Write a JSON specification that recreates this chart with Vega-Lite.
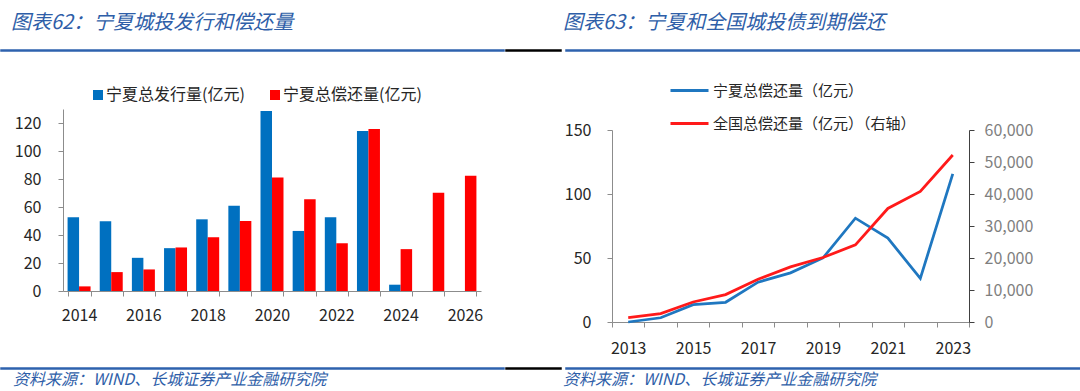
{
  "$schema": "https://vega.github.io/schema/vega-lite/v6.json",
  "padding": {"left": 0, "top": 12, "right": 0, "bottom": 0},
  "background": "white",
  "config": {
    "font": "Noto Sans CJK SC",
    "view": {"stroke": null},
    "axis": {"labelFontSize": 16, "labelColor": "#262626", "domainColor": "#8c8c8c", "tickColor": "#8c8c8c", "tickSize": 5, "grid": false, "labelFont": "Noto Sans CJK SC"},
    "legend": {"labelFontSize": 15, "labelColor": "#262626", "padding": 0, "labelFont": "Noto Sans CJK SC", "labelLimit": 400},
    "title": {"font": "Noto Sans CJK SC", "fontStyle": "italic", "fontWeight": "normal", "color": "#2E5EA8", "anchor": "start"}
  },
  "spacing": 11,
  "resolve": {"scale": {"color": "independent"}, "legend": {"color": "independent"}},
  "vconcat": [
    {
      "spacing": 0,
      "hconcat": [
        {"width": 503, "height": 1, "view": {"stroke": "#2E62AE", "strokeWidth": 1.5},
         "title": {"text": "图表62：宁夏城投发行和偿还量", "fontSize": 20, "dx": 10, "offset": 17},
         "data": {"values": []}, "mark": "text", "encoding": {"text": {"field": "t"}}},
        {"width": 55, "height": 1, "view": {"stroke": "#000000", "strokeWidth": 1.5},
         "data": {"values": []}, "mark": "text", "encoding": {"text": {"field": "t"}}},
        {"width": 522, "height": 1, "view": {"stroke": "#2E62AE", "strokeWidth": 1.5},
         "title": {"text": "图表63：宁夏和全国城投债到期偿还", "fontSize": 20, "dx": -3, "offset": 17},
         "data": {"values": []}, "mark": "text", "encoding": {"text": {"field": "t"}}}
      ]
    },
    {
      "spacing": 0,
      "resolve": {"scale": {"color": "independent"}, "legend": {"color": "independent"}},
      "hconcat": [
        {"width": 1, "height": 1, "data": {"values": []}, "mark": "text", "encoding": {"text": {"field": "t"}}},
        {
          "spacing": 23,
          "resolve": {"scale": {"color": "independent"}, "legend": {"color": "independent"}},
          "vconcat": [
            {"width": 1, "height": 1, "data": {"values": []}, "mark": "text", "encoding": {"text": {"field": "t"}}},
            {
              "width": 418, "height": 182,
              "data": {"values": [
                {"year": 2014, "indicator": "宁夏总发行量(亿元)", "value": 52.6},
                {"year": 2015, "indicator": "宁夏总发行量(亿元)", "value": 49.8},
                {"year": 2016, "indicator": "宁夏总发行量(亿元)", "value": 23.7},
                {"year": 2017, "indicator": "宁夏总发行量(亿元)", "value": 30.6},
                {"year": 2018, "indicator": "宁夏总发行量(亿元)", "value": 51.2},
                {"year": 2019, "indicator": "宁夏总发行量(亿元)", "value": 60.9},
                {"year": 2020, "indicator": "宁夏总发行量(亿元)", "value": 128.5},
                {"year": 2021, "indicator": "宁夏总发行量(亿元)", "value": 42.9},
                {"year": 2022, "indicator": "宁夏总发行量(亿元)", "value": 52.6},
                {"year": 2023, "indicator": "宁夏总发行量(亿元)", "value": 114.3},
                {"year": 2024, "indicator": "宁夏总发行量(亿元)", "value": 4.5},
                {"year": 2014, "indicator": "宁夏总偿还量(亿元)", "value": 3.3},
                {"year": 2015, "indicator": "宁夏总偿还量(亿元)", "value": 13.5},
                {"year": 2016, "indicator": "宁夏总偿还量(亿元)", "value": 15.4},
                {"year": 2017, "indicator": "宁夏总偿还量(亿元)", "value": 31.1},
                {"year": 2018, "indicator": "宁夏总偿还量(亿元)", "value": 38.4},
                {"year": 2019, "indicator": "宁夏总偿还量(亿元)", "value": 50.0},
                {"year": 2020, "indicator": "宁夏总偿还量(亿元)", "value": 81.1},
                {"year": 2021, "indicator": "宁夏总偿还量(亿元)", "value": 65.5},
                {"year": 2022, "indicator": "宁夏总偿还量(亿元)", "value": 34.1},
                {"year": 2023, "indicator": "宁夏总偿还量(亿元)", "value": 115.7},
                {"year": 2024, "indicator": "宁夏总偿还量(亿元)", "value": 29.9},
                {"year": 2025, "indicator": "宁夏总偿还量(亿元)", "value": 70.2},
                {"year": 2026, "indicator": "宁夏总偿还量(亿元)", "value": 82.3}
              ]},
              "mark": {"type": "bar"},
              "encoding": {
                "x": {"field": "year", "type": "ordinal",
                      "scale": {"paddingInner": 0.285, "paddingOuter": 0.1425},
                      "axis": {"title": null, "labelAngle": 0, "tickBand": "extent", "labelPadding": 11,
                               "labelExpr": "datum.value % 2 == 0 ? datum.label : ''"}},
                "xOffset": {"field": "indicator", "type": "nominal", "sort": ["宁夏总发行量(亿元)", "宁夏总偿还量(亿元)"], "scale": {"paddingInner": 0}},
                "y": {"field": "value", "type": "quantitative", "scale": {"domain": [0, 130], "nice": false},
                      "axis": {"title": null, "values": [0, 20, 40, 60, 80, 100, 120], "minExtent": 61, "labelPadding": 17}},
                "color": {"field": "indicator", "type": "nominal",
                          "scale": {"domain": ["宁夏总发行量(亿元)", "宁夏总偿还量(亿元)"], "range": ["#0070C0", "#FF0000"]},
                          "legend": {"title": null, "orient": "none", "legendX": 27, "legendY": -22, "direction": "horizontal",
                                     "symbolType": "square", "symbolSize": 100, "labelOffset": 0, "columnPadding": 22, "labelFontSize": 16}}
              }
            }
          ]
        },
        {
          "spacing": 6,
          "resolve": {"scale": {"color": "independent"}, "legend": {"color": "independent"}},
          "vconcat": [
            {"width": 1, "height": 1, "data": {"values": []}, "mark": "text", "encoding": {"text": {"field": "t"}}},
            {
              "width": 357, "height": 192,
              "data": {"values": [
                {"year": 2013, "series": "宁夏总偿还量（亿元）", "value": 0},
                {"year": 2014, "series": "宁夏总偿还量（亿元）", "value": 3.3},
                {"year": 2015, "series": "宁夏总偿还量（亿元）", "value": 13.5},
                {"year": 2016, "series": "宁夏总偿还量（亿元）", "value": 15.4},
                {"year": 2017, "series": "宁夏总偿还量（亿元）", "value": 31.1},
                {"year": 2018, "series": "宁夏总偿还量（亿元）", "value": 38.4},
                {"year": 2019, "series": "宁夏总偿还量（亿元）", "value": 50.0},
                {"year": 2020, "series": "宁夏总偿还量（亿元）", "value": 81.1},
                {"year": 2021, "series": "宁夏总偿还量（亿元）", "value": 65.5},
                {"year": 2022, "series": "宁夏总偿还量（亿元）", "value": 34.1},
                {"year": 2023, "series": "宁夏总偿还量（亿元）", "value": 115.7},
                {"year": 2013, "series": "全国总偿还量（亿元）（右轴）", "value": 1360},
                {"year": 2014, "series": "全国总偿还量（亿元）（右轴）", "value": 2610},
                {"year": 2015, "series": "全国总偿还量（亿元）（右轴）", "value": 6260},
                {"year": 2016, "series": "全国总偿还量（亿元）（右轴）", "value": 8560},
                {"year": 2017, "series": "全国总偿还量（亿元）（右轴）", "value": 13360},
                {"year": 2018, "series": "全国总偿还量（亿元）（右轴）", "value": 17220},
                {"year": 2019, "series": "全国总偿还量（亿元）（右轴）", "value": 20140},
                {"year": 2020, "series": "全国总偿还量（亿元）（右轴）", "value": 24100},
                {"year": 2021, "series": "全国总偿还量（亿元）（右轴）", "value": 35480},
                {"year": 2022, "series": "全国总偿还量（亿元）（右轴）", "value": 40800},
                {"year": 2023, "series": "全国总偿还量（亿元）（右轴）", "value": 52180}
              ]},
              "encoding": {
                "x": {"field": "year", "type": "ordinal",
                      "scale": {"type": "band", "paddingInner": 0, "paddingOuter": 0},
                      "axis": {"title": null, "labelAngle": 0, "tickBand": "extent", "labelPadding": 13,
                               "labelExpr": "datum.value % 2 == 1 ? datum.label : ''"}},
                "color": {"field": "series", "type": "nominal",
                          "scale": {"domain": ["宁夏总偿还量（亿元）", "全国总偿还量（亿元）（右轴）"], "range": ["#1F77C0", "#FF1A1A"]},
                          "legend": {"title": null, "orient": "none", "legendX": 57, "legendY": -60, "direction": "vertical",
                                     "symbolType": "stroke", "symbolSize": 1444, "symbolStrokeWidth": 3, "labelOffset": 3, "rowPadding": 4}}
              },
              "layer": [
                {
                  "transform": [{"filter": "datum.series == '宁夏总偿还量（亿元）'"}],
                  "mark": {"type": "line", "strokeWidth": 2.75},
                  "encoding": {
                    "y": {"field": "value", "type": "quantitative", "scale": {"domain": [0, 150], "nice": false},
                          "axis": {"title": null, "values": [0, 50, 100, 150], "minExtent": 129, "labelPadding": 16}}
                  }
                },
                {
                  "transform": [{"filter": "datum.series == '全国总偿还量（亿元）（右轴）'"}],
                  "mark": {"type": "line", "strokeWidth": 2.75},
                  "encoding": {
                    "y": {"field": "value", "type": "quantitative", "scale": {"domain": [0, 60000], "nice": false},
                          "axis": {"title": null, "orient": "right", "format": ",.0f", "values": [0, 10000, 20000, 30000, 40000, 50000, 60000],
                                   "labelColor": "#7f7f7f", "domainColor": "#404040", "tickColor": "#404040", "labelPadding": 10}}
                  }
                }
              ],
              "resolve": {"scale": {"y": "independent"}}
            }
          ]
        }
      ]
    },
    {
      "spacing": 0,
      "hconcat": [
        {"width": 503, "height": 1, "view": {"stroke": "#2E62AE", "strokeWidth": 1.5},
         "title": {"text": "资料来源：WIND、长城证券产业金融研究院", "orient": "bottom", "fontSize": 16, "dx": 12, "offset": 3},
         "data": {"values": []}, "mark": "text", "encoding": {"text": {"field": "t"}}},
        {"width": 55, "height": 1, "view": {"stroke": "#000000", "strokeWidth": 1.5},
         "data": {"values": []}, "mark": "text", "encoding": {"text": {"field": "t"}}},
        {"width": 522, "height": 1, "view": {"stroke": "#2E62AE", "strokeWidth": 1.5},
         "title": {"text": "资料来源：WIND、长城证券产业金融研究院", "orient": "bottom", "fontSize": 16, "dx": -3, "offset": 3},
         "data": {"values": []}, "mark": "text", "encoding": {"text": {"field": "t"}}}
      ]
    }
  ]
}
